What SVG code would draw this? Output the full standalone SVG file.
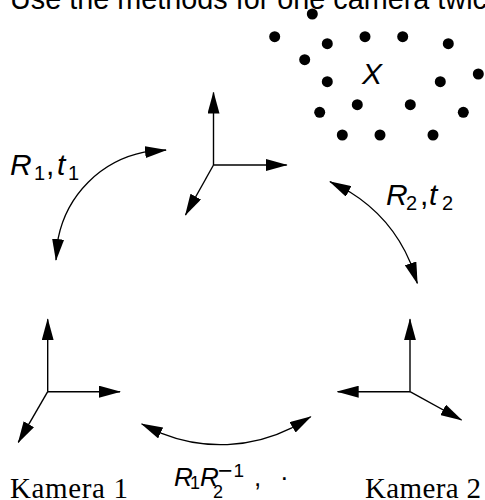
<svg xmlns="http://www.w3.org/2000/svg" width="485" height="500" viewBox="0 0 485 500">
<style>
.ax{stroke:#000;stroke-width:1.4;fill:none;marker-end:url(#ah)}
.arc{stroke:#000;stroke-width:1.3;fill:none;marker-start:url(#ah);marker-end:url(#ah)}
.sans{font-family:"Liberation Sans",Arial,sans-serif;fill:#000}
.serif{font-family:"Liberation Serif","Times New Roman",serif;fill:#000}
.it{font-style:italic}
.dot{fill:#000}
</style>
<defs>
<marker id="ah" viewBox="0 0 22 12" refX="21" refY="6" markerWidth="22" markerHeight="12" markerUnits="userSpaceOnUse" orient="auto-start-reverse">
<path d="M0,0 L22,6 L0,12 z" fill="#000"/>
</marker>
</defs>
<rect width="485" height="500" fill="#fff"/>
<text class="sans" x="10" y="8.5" font-size="28.8">Use the methods for one camera twic</text>

<g id="points">
<circle class="dot" cx="312.3" cy="14" r="5.5"/>
<circle class="dot" cx="274.7" cy="36.7" r="5.5"/>
<circle class="dot" cx="327.3" cy="43.7" r="5.5"/>
<circle class="dot" cx="365" cy="36.7" r="5.5"/>
<circle class="dot" cx="402.7" cy="36.7" r="5.5"/>
<circle class="dot" cx="448.3" cy="43.7" r="5.5"/>
<circle class="dot" cx="304.7" cy="59.7" r="5.5"/>
<circle class="dot" cx="327.3" cy="81.7" r="5.5"/>
<circle class="dot" cx="440.3" cy="81.7" r="5.5"/>
<circle class="dot" cx="478.3" cy="74" r="5.5"/>
<circle class="dot" cx="319.7" cy="112.3" r="5.5"/>
<circle class="dot" cx="357.3" cy="104.7" r="5.5"/>
<circle class="dot" cx="410.3" cy="104.7" r="5.5"/>
<circle class="dot" cx="463.3" cy="112.3" r="5.5"/>
<circle class="dot" cx="342.3" cy="135" r="5.5"/>
<circle class="dot" cx="380" cy="135" r="5.5"/>
<circle class="dot" cx="433" cy="135" r="5.5"/>
<text class="sans it" x="362" y="84" font-size="30">X</text>
</g>

<g id="frame-world">
<path class="ax" d="M213.5,165 L213.5,92.5"/>
<path class="ax" d="M213.5,165 L286.7,165"/>
<path class="ax" d="M213.5,165 L185.5,215"/>
</g>

<g id="camera1">
<path class="ax" d="M47.7,391.7 L47.7,319.3"/>
<path class="ax" d="M47.7,391.7 L120,391.7"/>
<path class="ax" d="M47.7,391.7 L18.3,442.3"/>
<text class="serif" x="10" y="497.5" font-size="29" textLength="118" lengthAdjust="spacing">Kamera 1</text>
</g>

<g id="camera2">
<path class="ax" d="M410,391.7 L410,319.3"/>
<path class="ax" d="M410,391.7 L337.7,391.7"/>
<path class="ax" d="M410,391.7 L461.5,420"/>
<text class="serif" x="365" y="497.5" font-size="29" textLength="116" lengthAdjust="spacing">Kamera 2</text>
</g>

<g id="connectors">
<path class="arc" d="M56,260 L58.2,238.1 A110,110 0 0 1 144.1,152.2 L166,150"/>
<path class="arc" d="M330,181.7 L349.5,191.8 A154,154 0 0 1 410.3,262.4 L417.3,283.3"/>
<path class="arc" d="M141.7,424 L161.6,433.4 A159,159 0 0 0 291.8,427.8 L310.7,416.7"/>
</g>

<g id="labels" class="sans">
<text x="10" y="175" font-size="30"><tspan class="it">R</tspan><tspan x="34" y="180" font-size="20">1</tspan><tspan x="46" y="175">,</tspan><tspan x="57" y="175" class="it">t</tspan><tspan x="68" y="180" font-size="20">1</tspan></text>
<text x="386" y="205" font-size="30"><tspan class="it">R</tspan><tspan x="406" y="210" font-size="20">2</tspan><tspan x="420" y="205">,</tspan><tspan x="429" y="205" class="it">t</tspan><tspan x="442" y="210" font-size="20">2</tspan></text>
<text x="174" y="486" font-size="26"><tspan class="it">R</tspan><tspan x="190" y="489" font-size="18">1</tspan><tspan x="200" y="486" class="it">R</tspan><tspan x="213" y="498" font-size="18">2</tspan><tspan x="218" y="479" font-size="25">−</tspan><tspan x="233.5" y="477" font-size="19">1</tspan><tspan x="254" y="486">,</tspan><tspan x="280" y="486">·</tspan></text>
</g>
</svg>
